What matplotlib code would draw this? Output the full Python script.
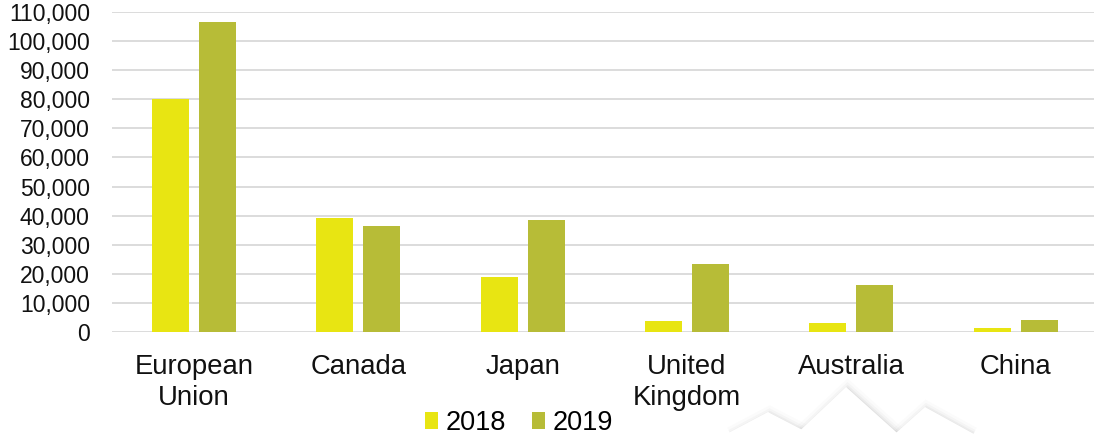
import numpy as np
import matplotlib
matplotlib.use("Agg")
import matplotlib.pyplot as plt
from matplotlib.patches import Polygon
from matplotlib.ticker import FuncFormatter

plt.rcParams['font.family'] = ['Liberation Sans', 'DejaVu Sans']

# exports by destination, two years
countries = ['European\nUnion', 'Canada', 'Japan', 'United\nKingdom', 'Australia', 'China']
values_2018 = [80000, 39200, 18900, 3800, 3100, 1500]
values_2019 = [106600, 36400, 38500, 23300, 16100, 4100]

color_2018 = '#E8E512'
color_2019 = '#B7BC37'
grid_color = '#D9D9D9'

W, H = 1094, 434
fig = plt.figure(figsize=(W / 100, H / 100), dpi=100)
ax = fig.add_axes([112 / W, 102 / H, (W - 112) / W, 320 / H])

x = np.arange(len(countries))
bw = 0.225
off = 0.143
ax.bar(x - off, values_2018, bw, color=color_2018, label='2018', zorder=3)
ax.bar(x + off, values_2019, bw, color=color_2019, label='2019', zorder=3)

ax.set_xlim(-0.5, 5.477)
ax.set_ylim(0, 110000)
ax.set_yticks(np.arange(0, 110001, 10000))
ax.yaxis.set_major_formatter(FuncFormatter(lambda v, p: f'{int(v):,}'))
ax.set_xticks(x)
ax.set_xticklabels(countries, linespacing=1.22)

ax.grid(axis='y', color=grid_color, linewidth=1.3, zorder=0)
ax.set_axisbelow(True)
for s in ax.spines.values():
    s.set_visible(False)
ax.tick_params(axis='y', length=0, pad=16, labelsize=16.5, labelcolor='#111111')
ax.tick_params(axis='x', length=0, pad=16, labelsize=19.8, labelcolor='#111111')

fig.legend(loc='center', bbox_to_anchor=(519 / W, 1 - 423 / H), ncol=2,
           frameon=False, fontsize=19.5, handlelength=0.5, handleheight=0.55,
           handletextpad=0.27, columnspacing=0.95, borderpad=0)

# faint mountain outline in the lower right background
mountains = [
    [(715, 440), (768, 412), (822, 440)],
    [(888, 440), (925, 407), (985, 440)],
    [(790, 440), (846, 387), (905, 440)],
]
for pts in mountains:
    fpts = [(px / W, 1 - py / H) for px, py in pts]
    for lw, a in [(12, 0.02), (8, 0.035), (5, 0.05), (2.5, 0.07)]:
        fig.add_artist(Polygon([(fx + 0.0015, fy - 0.006) for fx, fy in fpts],
                               closed=False, fill=False, edgecolor='#555555',
                               linewidth=lw, alpha=a, transform=fig.transFigure,
                               zorder=0))
    fig.add_artist(Polygon(fpts, closed=True, facecolor='white', edgecolor='none',
                           transform=fig.transFigure, zorder=0.5))

fig.savefig('out.png', dpi=100)
